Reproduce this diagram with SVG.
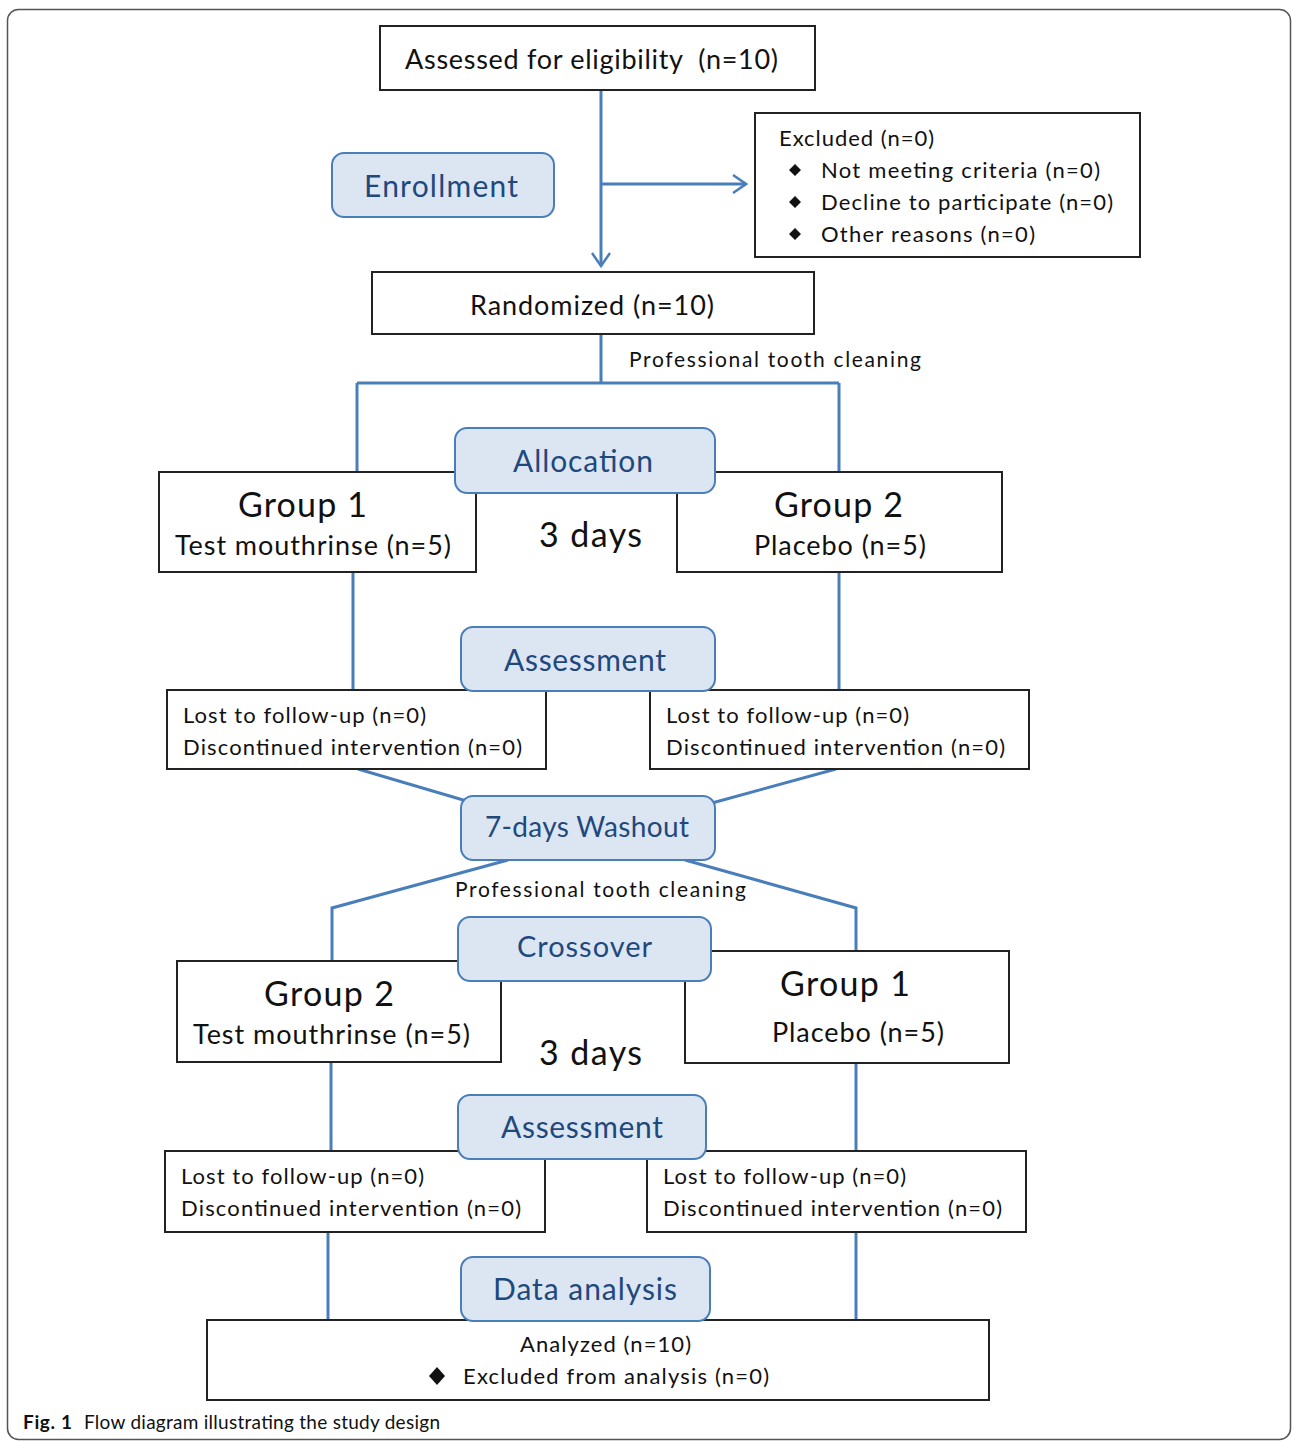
<svg xmlns="http://www.w3.org/2000/svg" width="1292" height="1441" viewBox="0 0 1292 1441">
<style>
.bx{fill:#fff;stroke:#222;stroke-width:2}
.bl{fill:#dce6f2;stroke:#4a7ebb;stroke-width:2}
.ln{fill:none;stroke:#4a7ebb;stroke-width:3}
.t{font-family:Lato,"Liberation Sans",sans-serif;fill:#111}
.bt{font-family:Lato,"Liberation Sans",sans-serif;fill:#1f497d}
</style>
<defs>
<marker id="arr" viewBox="0 0 16 20" refX="14" refY="10" markerWidth="16" markerHeight="20" markerUnits="userSpaceOnUse" orient="auto">
<path d="M1 1 L14 10 L1 19" fill="none" stroke="#4a7ebb" stroke-width="2.5"/>
</marker>
</defs>
<rect x="7.5" y="9.5" width="1283" height="1430" rx="11" fill="#fff" stroke="#555" stroke-width="1.5"/>

<g id="connectors">
<path class="ln" d="M601 90 V266" marker-end="url(#arr)"/>
<path class="ln" d="M601 184 H746" marker-end="url(#arr)"/>
<path class="ln" d="M601 334 V383 M357 383 H839 M357 383 V472 M839 383 V472"/>
<path class="ln" d="M353 572 V690 M839 572 V690"/>
<path class="ln" d="M358 769 L470 802 M836 769 L712 803"/>
<path class="ln" d="M508 860 L332 908 V961 M685 860 L856 908 V951"/>
<path class="ln" d="M331 1062 V1151 M856 1063 V1151"/>
<path class="ln" d="M328 1232 V1320 M856 1232 V1320"/>
</g>

<g id="n-assessed"><rect class="bx" x="380" y="26" width="435" height="64"/>
<text class="t" x="405" y="69" font-size="27" textLength="373" xml:space="preserve">Assessed for eligibility  (n=10)</text></g>

<g id="n-excluded"><rect class="bx" x="755" y="113" width="385" height="144"/>
<text class="t" x="779" y="146" font-size="22" textLength="155">Excluded (n=0)</text>
<path d="M795 164 l6 6 -6 6 -6 -6z M795 196 l6 6 -6 6 -6 -6z M795 228 l6 6 -6 6 -6 -6z" fill="#111"/>
<text class="t" x="821" y="178" font-size="22" textLength="279">Not meeting criteria (n=0)</text>
<text class="t" x="821" y="210" font-size="22" textLength="292">Decline to participate (n=0)</text>
<text class="t" x="821" y="242" font-size="22" textLength="214">Other reasons (n=0)</text></g>

<g id="n-randomized"><rect class="bx" x="372" y="272" width="442" height="62"/>
<text class="t" x="470" y="315" font-size="27" textLength="244">Randomized (n=10)</text></g>

<text class="t" x="629" y="367" font-size="21" textLength="292">Professional tooth cleaning</text>

<g id="n-group1"><rect class="bx" x="159" y="472" width="317" height="100"/>
<text class="t" x="238" y="517" font-size="34" textLength="129">Group 1</text>
<text class="t" x="175" y="555" font-size="27" textLength="276">Test mouthrinse (n=5)</text></g>

<g id="n-group2"><rect class="bx" x="677" y="472" width="325" height="100"/>
<text class="t" x="774" y="517" font-size="34" textLength="129">Group 2</text>
<text class="t" x="754" y="555" font-size="27" textLength="172">Placebo (n=5)</text></g>

<text class="t" x="539" y="547" font-size="34" textLength="103">3 days</text>

<g id="n-lost1"><rect class="bx" x="167" y="690" width="379" height="79"/>
<text class="t" x="183" y="723" font-size="22" textLength="243">Lost to follow-up (n=0)</text>
<text class="t" x="183" y="755" font-size="22" textLength="339">Discontinued intervention (n=0)</text></g>

<g id="n-lost2"><rect class="bx" x="650" y="690" width="379" height="79"/>
<text class="t" x="666" y="723" font-size="22" textLength="243">Lost to follow-up (n=0)</text>
<text class="t" x="666" y="755" font-size="22" textLength="339">Discontinued intervention (n=0)</text></g>

<text class="t" x="455" y="897" font-size="21" textLength="291">Professional tooth cleaning</text>

<g id="n-group2b"><rect class="bx" x="177" y="961" width="324" height="101"/>
<text class="t" x="264" y="1006" font-size="34" textLength="130">Group 2</text>
<text class="t" x="193" y="1044" font-size="27" textLength="277">Test mouthrinse (n=5)</text></g>

<g id="n-group1b"><rect class="bx" x="685" y="951" width="324" height="112"/>
<text class="t" x="780" y="996" font-size="34" textLength="130">Group 1</text>
<text class="t" x="772" y="1042" font-size="27" textLength="172">Placebo (n=5)</text></g>

<text class="t" x="539" y="1065" font-size="34" textLength="103">3 days</text>

<g id="n-lost3"><rect class="bx" x="165" y="1151" width="380" height="81"/>
<text class="t" x="181" y="1184" font-size="22" textLength="243">Lost to follow-up (n=0)</text>
<text class="t" x="181" y="1216" font-size="22" textLength="340">Discontinued intervention (n=0)</text></g>

<g id="n-lost4"><rect class="bx" x="647" y="1151" width="379" height="81"/>
<text class="t" x="663" y="1184" font-size="22" textLength="243">Lost to follow-up (n=0)</text>
<text class="t" x="663" y="1216" font-size="22" textLength="339">Discontinued intervention (n=0)</text></g>

<g id="n-analyzed"><rect class="bx" x="207" y="1320" width="782" height="80"/>
<text class="t" x="520" y="1352" font-size="22" textLength="171">Analyzed (n=10)</text>
<path d="M437 1367 l8 9 -8 9 -8 -9z" fill="#111"/>
<text class="t" x="463" y="1384" font-size="22" textLength="306">Excluded from analysis (n=0)</text></g>

<g id="n-enrollment"><rect class="bl" x="332" y="153" width="222" height="64" rx="12"/>
<text class="bt" x="364" y="197" font-size="30" textLength="154">Enrollment</text></g>
<g id="n-allocation"><rect class="bl" x="455" y="428" width="260" height="65" rx="12"/>
<text class="bt" x="513" y="472" font-size="30" textLength="140">Allocation</text></g>
<g id="n-assessment1"><rect class="bl" x="461" y="627" width="254" height="64" rx="12"/>
<text class="bt" x="504" y="671" font-size="30" textLength="162">Assessment</text></g>
<g id="n-washout"><rect class="bl" x="461" y="796" width="254" height="64" rx="12"/>
<text class="bt" x="485" y="837" font-size="28" textLength="204">7-days Washout</text></g>
<g id="n-crossover"><rect class="bl" x="458" y="917" width="253" height="64" rx="12"/>
<text class="bt" x="517" y="957" font-size="29" textLength="135">Crossover</text></g>
<g id="n-assessment2"><rect class="bl" x="458" y="1095" width="248" height="64" rx="12"/>
<text class="bt" x="501" y="1138" font-size="30" textLength="162">Assessment</text></g>
<g id="n-dataanalysis"><rect class="bl" x="461" y="1257" width="249" height="64" rx="12"/>
<text class="bt" x="493" y="1300" font-size="30" textLength="184">Data analysis</text></g>

<text class="t" x="23" y="1429" font-size="19" font-weight="bold" textLength="49">Fig. 1</text>
<text class="t" x="84" y="1429" font-size="19" textLength="356">Flow diagram illustrating the study design</text>
</svg>
